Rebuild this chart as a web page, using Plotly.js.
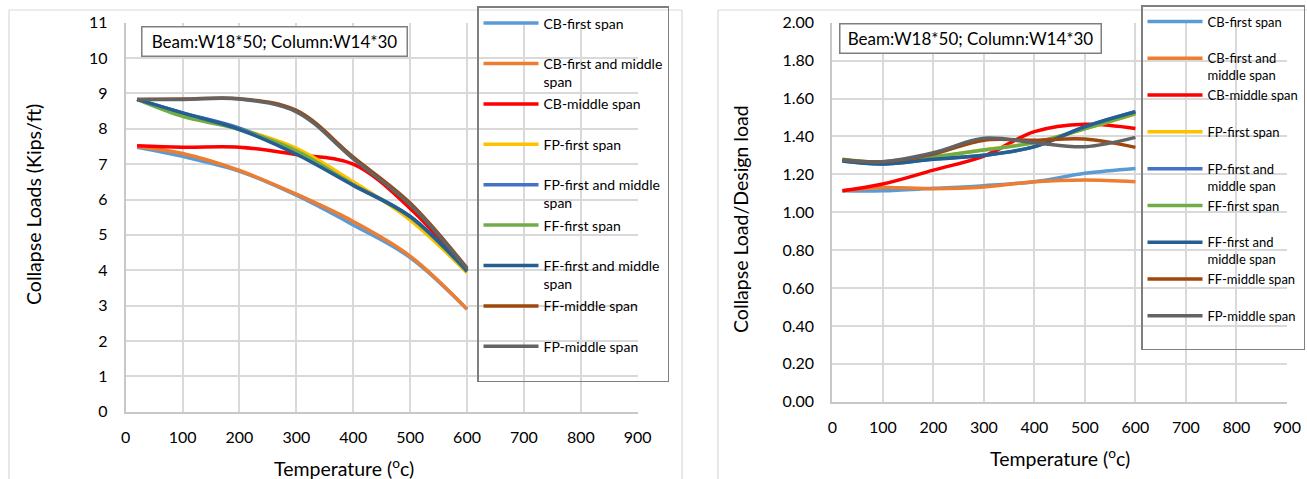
<!DOCTYPE html>
<html>
<head>
<meta charset="utf-8">
<script src="https://cdn.plot.ly/plotly-3.0.1.min.js"></script>
<style>
  html, body { margin: 0; padding: 0; background: #fff; }
  #chart { width: 1307px; height: 479px; }
</style>
</head>
<body>
<div id="chart"></div>
<script>
// Temperatures at which the frames were analysed (°C)
const temperature = [20, 100, 200, 300, 400, 500, 600];

// Series labels (left and right panels wrap the long names differently)
const seriesNames = [
  'CB-first span', 'CB-first and middle span', 'CB-middle span',
  'FP-first span', 'FP-first and middle span', 'FF-first span',
  'FF-first and middle span', 'FF-middle span', 'FP-middle span'
];
const legendLeft = [
  'CB-first span', 'CB-first and middle<br>span', 'CB-middle span',
  'FP-first span', 'FP-first and middle<br>span', 'FF-first span',
  'FF-first and middle<br>span', 'FF-middle span', 'FP-middle span'
];
const legendRight = [
  'CB-first span', 'CB-first and<br>middle span', 'CB-middle span',
  'FP-first span', 'FP-first and<br>middle span', 'FF-first span',
  'FF-first and<br>middle span', 'FF-middle span', 'FP-middle span'
];
const seriesColors = [
  '#5B9BD5', '#ED7D31', '#FF0000', '#FFC000', '#4472C4',
  '#70AD47', '#255E91', '#9E480E', '#636363'
];

// Collapse loads (kips/ft)
const cbFirstLoad        = [7.48, 7.22, 6.80, 6.12, 5.28, 4.36, 2.90];
const cbFirstMiddleLoad  = [7.50, 7.30, 6.82, 6.15, 5.38, 4.40, 2.90];
const cbMiddleLoad       = [7.52, 7.48, 7.48, 7.27, 7.00, 5.75, 4.00];
const fpFirstLoad        = [8.83, 8.42, 8.00, 7.45, 6.50, 5.42, 3.93];
const fpFirstMiddleLoad  = [8.83, 8.45, 8.02, 7.32, 6.42, 5.52, 3.98];
const ffFirstLoad        = [8.83, 8.35, 7.98, 7.38, 6.42, 5.50, 3.96];
const ffFirstMiddleLoad  = [8.83, 8.45, 7.98, 7.28, 6.40, 5.52, 3.98];
const ffMiddleLoad       = [8.83, 8.84, 8.85, 8.52, 7.20, 5.90, 4.06];
const fpMiddleLoad       = [8.83, 8.83, 8.84, 8.48, 7.15, 5.85, 4.04];

// Collapse load / design load ratios
const cbFirstRatio       = [1.113, 1.113, 1.126, 1.140, 1.161, 1.205, 1.231];
const cbFirstMiddleRatio = [1.113, 1.130, 1.124, 1.133, 1.161, 1.170, 1.161];
const cbMiddleRatio      = [1.113, 1.149, 1.222, 1.296, 1.425, 1.464, 1.442];
const fpFirstRatio       = [1.275, 1.262, 1.290, 1.330, 1.367, 1.440, 1.518];
const fpFirstMiddleRatio = [1.270, 1.255, 1.280, 1.300, 1.345, 1.450, 1.530];
const ffFirstRatio       = [1.280, 1.265, 1.293, 1.328, 1.367, 1.440, 1.520];
const ffFirstMiddleRatio = [1.270, 1.254, 1.279, 1.300, 1.346, 1.451, 1.530];
const ffMiddleRatio      = [1.275, 1.266, 1.307, 1.380, 1.380, 1.386, 1.342];
const fpMiddleRatio      = [1.275, 1.266, 1.314, 1.390, 1.367, 1.346, 1.395];

const xTicks = [0, 100, 200, 300, 400, 500, 600, 700, 800, 900];
const sectionLabel = 'Beam:W18*50; Column:W14*30';
const xTitle = 'Temperature (<sup>o</sup>c)';
const yTitleLeft = 'Collapse Loads (Kips/ft)';
const yTitleRight = 'Collapse Load/Design load';

const loadSeries = [cbFirstLoad, cbFirstMiddleLoad, cbMiddleLoad, fpFirstLoad,
  fpFirstMiddleLoad, ffFirstLoad, ffFirstMiddleLoad, ffMiddleLoad, fpMiddleLoad];
const ratioSeries = [cbFirstRatio, cbFirstMiddleRatio, cbMiddleRatio, fpFirstRatio,
  fpFirstMiddleRatio, ffFirstRatio, ffFirstMiddleRatio, ffMiddleRatio, fpMiddleRatio];

// ---- layout helpers (pixel -> paper fraction) ----
const W = 1307, H = 479;
const px = x => x / W;
const py = y => 1 - y / H;
const FONT = 'Lato, "Open Sans", sans-serif';

// give every legend entry two text lines so entries are evenly spaced
const padTwoLines = s => s.includes('<br>') ? s : s + '<br>\u00a0';

const traces = [];
loadSeries.forEach((ys, i) => {
  traces.push({
    x: temperature, y: ys, xaxis: 'x', yaxis: 'y',
    type: 'scatter', mode: 'lines', name: padTwoLines(legendLeft[i]),
    legend: 'legend', legendgroup: 'L' + i,
    line: { color: seriesColors[i], width: 3.5, shape: 'spline', smoothing: 1 },
    hovertemplate: seriesNames[i] + ': %{y}<extra></extra>'
  });
});
ratioSeries.forEach((ys, i) => {
  traces.push({
    x: temperature, y: ys, xaxis: 'x2', yaxis: 'y2',
    type: 'scatter', mode: 'lines', name: padTwoLines(legendRight[i]),
    legend: 'legend2', legendgroup: 'R' + i,
    line: { color: seriesColors[i], width: 3.5, shape: 'spline', smoothing: 1 },
    hovertemplate: seriesNames[i] + ': %{y}<extra></extra>'
  });
});

const axisStyle = {
  showgrid: true, gridcolor: '#D9D9D9', gridwidth: 2,
  showline: true, linecolor: '#C8C8C8', linewidth: 2,
  zeroline: false, ticks: '', fixedrange: true,
  tickfont: { family: FONT, size: 16, color: '#000' }
};

const legendStyle = {
  xanchor: 'left', yanchor: 'top',
  bgcolor: 'rgba(0,0,0,0)', bordercolor: '#7F7F7F', borderwidth: 1.5,
  font: { family: FONT, size: 14, color: '#000' },
  valign: 'top', itemwidth: 55, tracegroupgap: 1
};

const frame = { type: 'line', xref: 'paper', yref: 'paper', line: { color: '#D9D9D9', width: 1.2 } };

const boxNote = (cx, cy, w, h) => ({
  text: sectionLabel, xref: 'paper', yref: 'paper', x: px(cx), y: py(cy),
  xanchor: 'center', yanchor: 'middle', width: w, height: h,
  showarrow: false, bgcolor: '#fff', bordercolor: '#7F7F7F', borderwidth: 1.5,
  borderpad: 0, font: { family: FONT, size: 17, color: '#000' }
});

const title = (text, cx, cy, angle) => ({
  text, xref: 'paper', yref: 'paper', x: px(cx), y: py(cy),
  xanchor: 'center', yanchor: 'middle', textangle: angle || 0,
  showarrow: false, font: { family: FONT, size: 19.5, color: '#000' }
});

const layout = {
  width: W, height: H,
  margin: { l: 0, r: 0, t: 0, b: 0, autoexpand: false },
  paper_bgcolor: '#fff', plot_bgcolor: 'rgba(0,0,0,0)',
  xaxis: Object.assign({}, axisStyle, {
    domain: [px(125.7), px(637.7)], range: [0, 900],
    tickvals: xTicks, ticklabelstandoff: 10, anchor: 'y'
  }),
  yaxis: Object.assign({}, axisStyle, {
    domain: [py(411.7), py(22.7)], range: [0, 11], dtick: 1,
    ticklabelstandoff: 13, anchor: 'x'
  }),
  xaxis2: Object.assign({}, axisStyle, {
    domain: [px(832.3), px(1287)], range: [0, 900],
    tickvals: xTicks, ticklabelstandoff: 10, anchor: 'y2'
  }),
  yaxis2: Object.assign({}, axisStyle, {
    domain: [py(401.7), py(22.7)], range: [0, 2], dtick: 0.2,
    tickformat: '.2f', ticklabelstandoff: 13, anchor: 'x2'
  }),
  legend: Object.assign({}, legendStyle, { x: px(477), y: py(6) }),
  legend2: Object.assign({}, legendStyle, {
    x: px(1141), y: py(5), tracegroupgap: 0,
    font: { family: FONT, size: 13, color: '#000' }
  }),
  shapes: [
    Object.assign({}, frame, { x0: px(9), x1: px(9), y0: 0, y1: py(10) }),
    Object.assign({}, frame, { x0: px(9), x1: px(682), y0: py(10), y1: py(10) }),
    Object.assign({}, frame, { x0: px(682), x1: px(682), y0: 0, y1: py(10) }),
    Object.assign({}, frame, { x0: px(718), x1: px(718), y0: 0, y1: py(10) }),
    Object.assign({}, frame, { x0: px(718), x1: 1, y0: py(10), y1: py(10) })
  ],
  annotations: [
    boxNote(274, 41.5, 264, 28),
    boxNote(970, 38.5, 260, 28),
    title(xTitle, 344, 467),
    title(xTitle, 1060, 457),
    title(yTitleLeft, 33, 205, -90),
    title(yTitleRight, 740, 219, -90)
  ]
};

Plotly.newPlot('chart', traces, layout, { displayModeBar: false, staticPlot: true });
</script>
</body>
</html>
